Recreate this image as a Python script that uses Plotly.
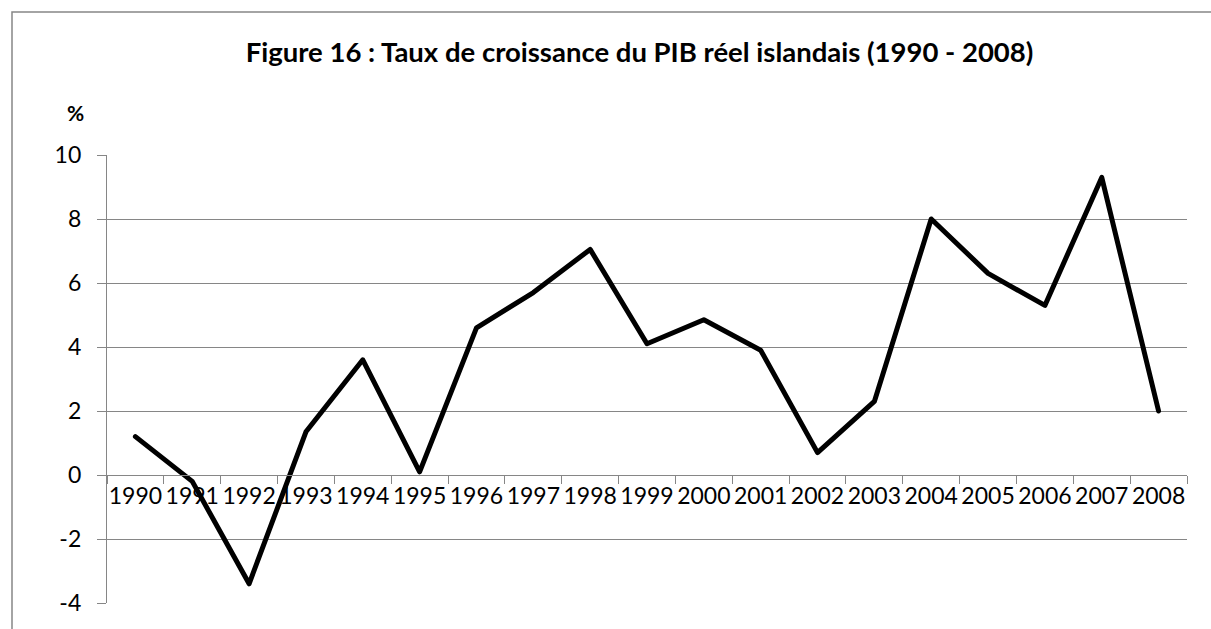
import plotly.graph_objects as go

years = [str(y) for y in range(1990, 2009)]
growth = [1.2, -0.2, -3.4, 1.35, 3.6, 0.1, 4.6, 5.7, 7.05, 4.1, 4.85, 3.9, 0.7, 2.3, 8.0, 6.3, 5.3, 9.3, 2.0]
y_ticks = [-4, -2, 0, 2, 4, 6, 8, 10]
y_tick_labels = ["-4", "-2", "0", "2", "4", "6", "8", "10"]
title_text = "Figure 16 : Taux de croissance du PIB réel islandais (1990 - 2008)"
unit_text = "%"

W, H = 1211, 629
ML, MR, MT, MB = 107, 24, 155, 26
PW, PH = W - ML - MR, H - MT - MB
ymin, ymax = -4, 10

def px_x(p):
    return (p - ML) / PW

def px_y(p):
    return (H - MB - p) / PH

grid_col = "#868686"
font_fam = "Lato, 'Open Sans', sans-serif"

fig = go.Figure()
fig.add_trace(go.Scatter(
    x=years, y=growth, mode="lines",
    line=dict(color="black", width=5),
    hoverinfo="x+y", showlegend=False,
))

fig.update_layout(
    width=W, height=H,
    margin=dict(l=ML, r=MR, t=MT, b=MB, pad=0),
    paper_bgcolor="white", plot_bgcolor="white",
    font=dict(family=font_fam, size=23, color="black"),
    title=dict(
        text="<b>" + title_text + "</b>",
        x=px_x(639.5), xref="paper", xanchor="center",
        y=1 - 52 / H, yref="container", yanchor="middle",
        font=dict(family=font_fam, size=27.5, color="black"),
    ),
    xaxis=dict(
        type="category", tickson="boundaries",
        showgrid=False, zeroline=False,
        showline=True, linecolor=grid_col, linewidth=1.3,
        ticks="outside", ticklen=8, tickcolor=grid_col, tickwidth=1.3,
        tickangle=0,
        anchor="free", position=(0 - ymin) / (ymax - ymin),
        tickfont=dict(family=font_fam, size=23, color="black"),
        range=[-0.5, len(years) - 0.5],
    ),
    yaxis=dict(
        range=[ymin, ymax], tickvals=y_ticks, ticktext=y_tick_labels,
        showgrid=True, gridcolor=grid_col, gridwidth=1.3,
        zeroline=False,
        showline=True, linecolor=grid_col, linewidth=1.3,
        ticks="outside", ticklen=9, tickcolor=grid_col, tickwidth=1.3,
        ticklabelstandoff=11,
        tickfont=dict(family=font_fam, size=23, color="black"),
    ),
    shapes=[dict(
        type="rect", xref="paper", yref="paper",
        x0=px_x(12), x1=px_x(1230), y0=px_y(660), y1=px_y(12),
        line=dict(color=grid_col, width=1.5), fillcolor="rgba(0,0,0,0)",
        layer="below",
    )],
    annotations=[dict(
        text="<b>" + unit_text + "</b>", xref="paper", yref="paper",
        x=px_x(75), y=px_y(112), xanchor="center", yanchor="middle",
        showarrow=False, font=dict(family=font_fam, size=21, color="black"),
    )],
)

fig.write_html(
    "out.html",
    config={"displayModeBar": False},
    post_script=(
        "document.body.style.margin='0';document.body.style.overflow='hidden';"
        "document.querySelectorAll('.js-line').forEach(function(p){"
        "p.style.strokeLinejoin='round';p.style.strokeLinecap='round';});"
    ),
)
